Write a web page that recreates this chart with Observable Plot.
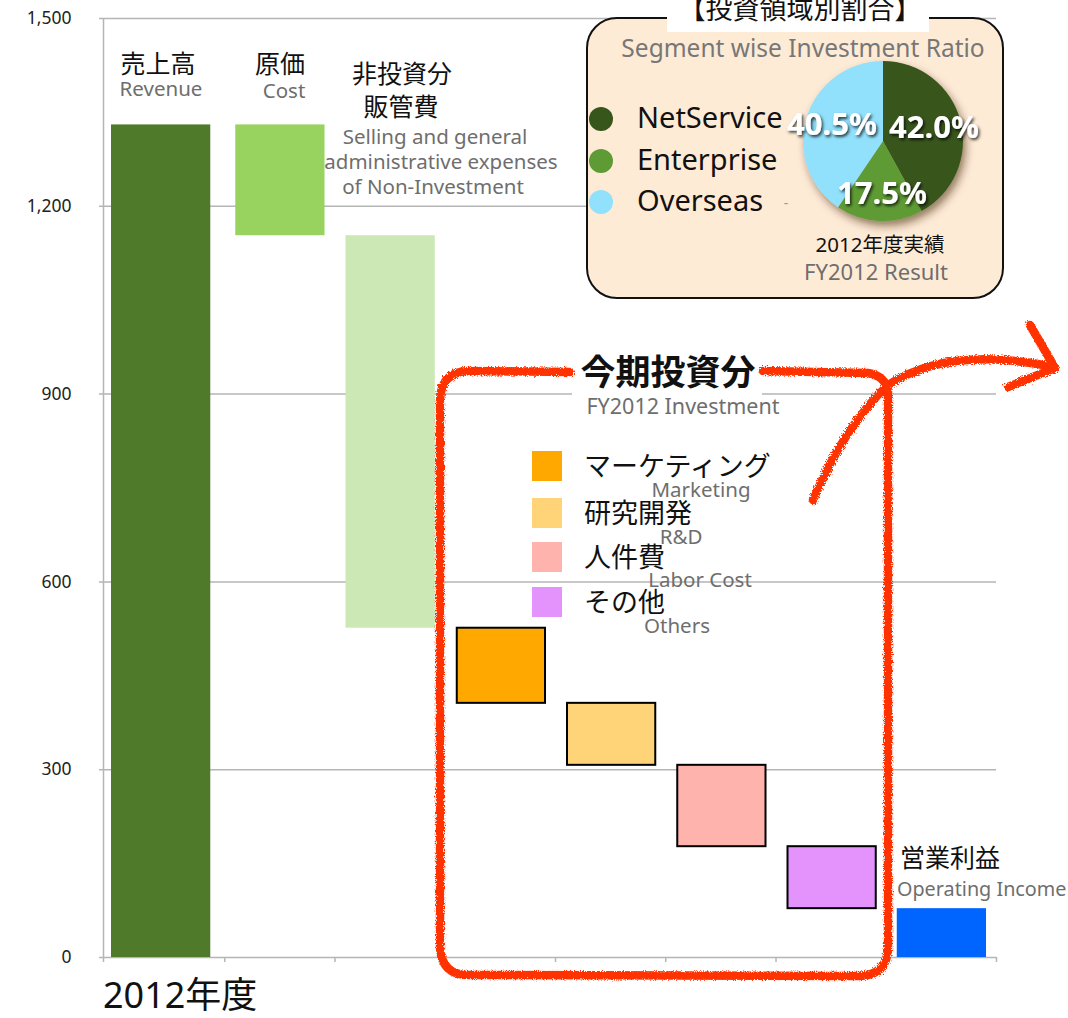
<!DOCTYPE html>
<html><head><meta charset="utf-8">
<script src="https://cdn.jsdelivr.net/npm/d3@7"></script>
<script src="https://cdn.jsdelivr.net/npm/@observablehq/plot@0.6"></script>
<style>
body{margin:0;background:#fff;}
#chart{width:1068px;height:1018px;overflow:hidden;}
svg text{font-family:"Noto Sans","Noto Sans CJK JP",sans-serif;}
</style></head><body><div id="chart"></div>
<script>
// ---- data ----
const categories = ["売上高","原価","非投資分販管費","マーケティング","研究開発","人件費","その他","営業利益"];
const barStart = [0, 1330, 1153, 526, 406, 307, 177, 0];
const barEnd   = [1330, 1153, 526, 406, 307, 177, 78, 78];
const yTicks = [0, 300, 600, 900, 1200, 1500];
const segments = ["NetService", "Enterprise", "Overseas"];
const segmentShares = [42.0, 17.5, 40.5];
const investJa = ["マーケティング", "研究開発", "人件費", "その他"];
const investEn = ["Marketing", "R&D", "Labor Cost", "Others"];

// ---- styles ----
const barColors = ["#4e7a2a", "#97d35e", "#cce8b5", "#ffa800", "#ffd479", "#ffb3ad", "#e393fb", "#0064ff"];
const segmentColors = ["#37561b", "#5f9b34", "#91e0fc"];
const gridColor = "#b5b5b5";
const gray = "#6e6e6e";
const enSize = 20.5;

const table = categories.map((c, i) => ({
  c, i,
  lo: i === 0 ? 0 : i + 0.1,
  hi: i + 1.1,
  y1: barStart[i], y2: barEnd[i],
  fill: barColors[i],
  invest: i >= 3 && i <= 6
}));
const edges = [0, ...table.map(d => d.hi)];

const svg = Plot.plot({
  width: 1068, height: 1018,
  marginLeft: 103, marginRight: 72, marginTop: 18, marginBottom: 61,
  x: {type: "linear", domain: [0, 8.1], axis: null},
  y: {domain: [0, 1500], axis: null},
  color: {type: "identity"},
  style: {fontFamily: '"Noto Sans","Noto Sans CJK JP",sans-serif', background: "#fff"},
  marks: [
    Plot.ruleY(yTicks, {stroke: gridColor, strokeWidth: 1.5, insetLeft: -4}),
    Plot.ruleX([0], {stroke: gridColor, strokeWidth: 1.5}),
    Plot.axisX({ticks: edges, tickFormat: () => "", tickSize: 5, stroke: gridColor, strokeWidth: 1.5}),
    Plot.axisY({ticks: yTicks, tickFormat: d3.format(","), tickSize: 0, tickPadding: 32, fontSize: 17.5, fill: "#222"}),
    Plot.rect(table.filter(d => d.i === 0), {x1: "lo", x2: "hi", y1: "y1", y2: "y2", fill: "fill", insetLeft: 8, insetRight: 14}),
    Plot.rect(table.filter(d => d.i > 0 && !d.invest), {x1: "lo", x2: "hi", y1: "y1", y2: "y2", fill: "fill", insetLeft: 11, insetRight: 10}),
    Plot.rect(table.filter(d => d.invest), {x1: "lo", x2: "hi", y1: "y1", y2: "y2", fill: "fill", stroke: "#000", strokeWidth: 2, insetLeft: 12, insetRight: 10})
  ]
});
document.getElementById("chart").appendChild(svg);

const s = d3.select(svg);
const defs = s.append("defs");
defs.append("filter").attr("id", "crayon").attr("x", "-10%").attr("y", "-10%").attr("width", "120%").attr("height", "120%")
  .call(f => {
    f.append("feTurbulence").attr("type", "fractalNoise").attr("baseFrequency", "0.9").attr("numOctaves", 2).attr("result", "n");
    f.append("feDisplacementMap").attr("in", "SourceGraphic").attr("in2", "n").attr("scale", 5);
  });
defs.append("filter").attr("id", "pieShadow").attr("x", "-30%").attr("y", "-30%").attr("width", "160%").attr("height", "160%")
  .append("feDropShadow").attr("dx", 3).attr("dy", 5).attr("stdDeviation", 4).attr("flood-color", "#3a2000").attr("flood-opacity", 0.55);
defs.append("filter").attr("id", "txtShadow").attr("x", "-20%").attr("y", "-30%").attr("width", "140%").attr("height", "160%")
  .append("feDropShadow").attr("dx", 1.5).attr("dy", 2).attr("stdDeviation", 1.5).attr("flood-color", "#000").attr("flood-opacity", 0.75);

function txt(g, x, y, str, o = {}) {
  return g.append("text").attr("x", x).attr("y", y).attr("dy", "0.36em")
    .attr("text-anchor", o.anchor || "middle")
    .attr("font-size", o.size || 19)
    .attr("font-weight", o.weight || 400)
    .attr("fill", o.fill || "#111")
    .text(str);
}

const ann = s.append("g");
// bar labels
txt(ann, 158, 64, "売上高", {size: 25});
txt(ann, 161, 89, "Revenue", {size: enSize, fill: gray});
txt(ann, 280, 64, "原価", {size: 25});
txt(ann, 284, 91, "Cost", {size: enSize, fill: gray});
txt(ann, 402, 74, "非投資分", {size: 25});
txt(ann, 401, 107, "販管費", {size: 25});
txt(ann, 435, 137, "Selling and general", {size: enSize, fill: gray});
txt(ann, 441, 162, "administrative expenses", {size: enSize, fill: gray});
txt(ann, 433, 187, "of Non-Investment", {size: enSize, fill: gray});
txt(ann, 900, 858, "営業利益", {size: 25, anchor: "start"});
txt(ann, 897, 889, "Operating Income", {size: 19.8, fill: gray, anchor: "start"});
txt(ann, 103, 995, "2012年度", {size: 36, anchor: "start"});

// red hand-drawn box + arrow
const red = s.append("g").attr("fill", "none").attr("stroke", "#ff3300").attr("stroke-width", 8.5)
  .attr("stroke-linecap", "round").attr("stroke-linejoin", "round").attr("filter", "url(#crayon)");
red.append("path").attr("d", "M570 372 L468 371 Q441 372 440 400 L440 948 Q442 975 468 975 L860 976 Q887 975 888 948 L888 392 Q886 376 868 373 L763 371");
red.append("path").attr("d", "M813 500 Q845 425 888 385 Q950 345 1053 367");
red.append("path").attr("d", "M1030 325 L1055 368 L1008 387");

// investment title
ann.append("rect").attr("x", 572).attr("y", 350).attr("width", 190).attr("height", 45).attr("fill", "#fff");
txt(ann, 668, 372, "今期投資分", {size: 35, weight: 700});
txt(ann, 683, 406, "FY2012 Investment", {size: 21.5, fill: gray});

// investment legend
const legY = [466, 513, 557, 602];
const legEnPos = [[701, 490], [681, 537], [700, 580], [677, 626]];
investJa.forEach((lab, k) => {
  ann.append("rect").attr("x", 532).attr("y", legY[k] - 15).attr("width", 30).attr("height", 30).attr("fill", barColors[3 + k]);
  txt(ann, 584, legY[k], lab, {size: 27, anchor: "start"});
});
investEn.forEach((lab, k) => txt(ann, legEnPos[k][0], legEnPos[k][1], lab, {size: enSize, fill: gray}));

// inset pie box
const inset = s.append("g");
inset.append("rect").attr("x", 587).attr("y", 18).attr("width", 416).attr("height", 280).attr("rx", 30).attr("ry", 30)
  .attr("fill", "#feebd6").attr("stroke", "#111").attr("stroke-width", 2);
inset.append("rect").attr("x", 667).attr("y", 0).attr("width", 262).attr("height", 32).attr("fill", "#fff");
txt(inset, 800, 9, "【投資領域別割合】", {size: 27});
txt(inset, 803, 48, "Segment wise Investment Ratio", {size: 24.5, fill: "#777"});
const dotY = [119, 161, 202];
segments.forEach((seg, k) => {
  inset.append("circle").attr("cx", 601).attr("cy", dotY[k]).attr("r", 12).attr("fill", segmentColors[k]);
  txt(inset, 637, dotY[k] - 1, seg, {size: 29, anchor: "start"});
});
txt(inset, 786, 203, "-", {size: 14, fill: "#999"});
const pie = d3.pie().sort(null).value(d => d)(segmentShares);
const arc = d3.arc().innerRadius(0).outerRadius(80);
const pg = inset.append("g").attr("transform", "translate(883,141)");
pg.append("g").attr("filter", "url(#pieShadow)").selectAll("path").data(pie).join("path")
  .attr("d", arc).attr("fill", (d, k) => segmentColors[k]);
const pctPos = [[51, -14], [-1, 52], [-51, -17]];
segmentShares.forEach((v, k) => {
  txt(pg, pctPos[k][0], pctPos[k][1], v.toFixed(1) + "%", {size: 31, weight: 700, fill: "#fff"}).attr("filter", "url(#txtShadow)");
});
txt(inset, 880, 245, "2012年度実績", {size: 20.5});
txt(inset, 876, 272, "FY2012 Result", {size: 22, fill: gray});
</script></body></html>
